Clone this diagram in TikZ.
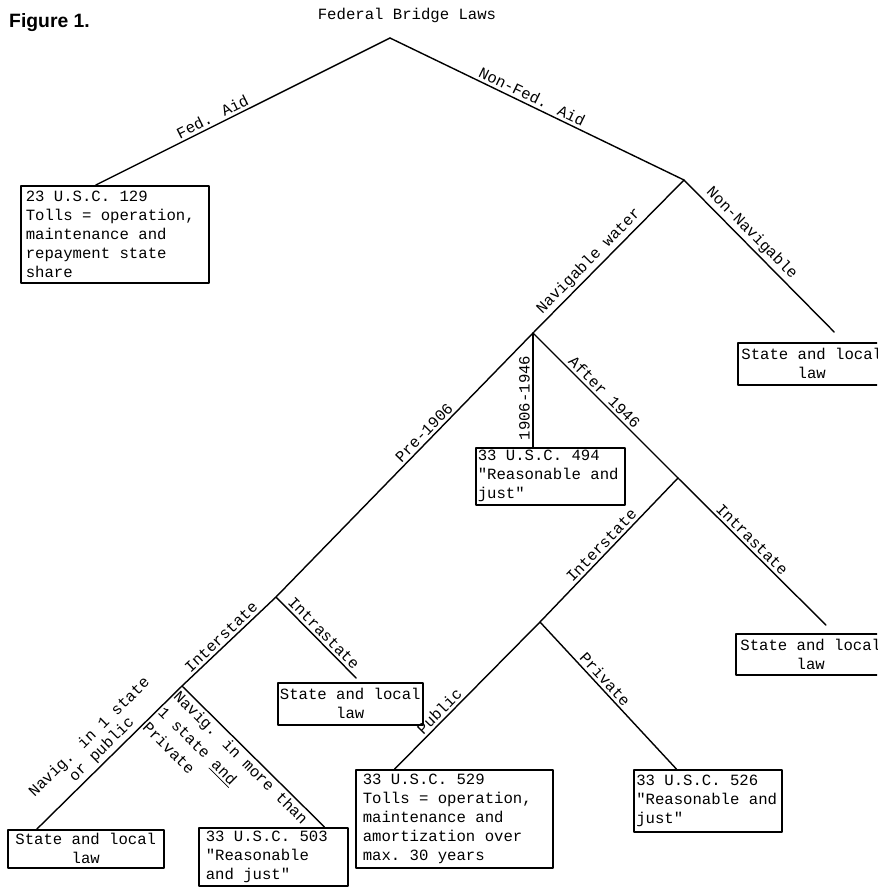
\documentclass[tikz,border=0pt]{standalone}
\usepackage{fontspec}
\newfontfamily\tw{Liberation Mono}
\newfontfamily\hv{Liberation Sans}
\newcommand\twfont{\tw\fontsize{8.9}{10.8}\selectfont}
\usetikzlibrary{calc}

\begin{document}
\begin{tikzpicture}[line cap=round,line join=round,x=0.02cm,y=-0.02cm,
    branch/.style={line width=0.8pt},
    lawbox/.style={draw,line width=0.9pt,anchor=north west,align=left,inner ysep=0pt,font=\twfont,
      execute at begin node={\frenchspacing\spaceskip=0pt\xspaceskip=0pt}},
    localbox/.style={draw,line width=0.9pt,anchor=north west,align=center,inner xsep=0.5pt,inner ysep=0pt,font=\twfont},
    lbl/.style={sloped,above,inner sep=1.5pt,font=\tw\fontsize{8.9}{10}\selectfont}]
  \useasboundingbox (0,0) rectangle (877,887);
  \clip (0,0) rectangle (877,887);
  \fill[white] (0,0) rectangle (877,887);

  \node[font=\hv\fontsize{11}{13}\selectfont\bfseries,anchor=base west] (fig) at (3,27) {Figure 1.};
  \node[font=\twfont,anchor=base] (title) at (407,19) {Federal Bridge Laws};

  % junctions
  \coordinate (root) at (390,38);
  \coordinate (nonfed) at (684,180);
  \coordinate (navig) at (533,333);
  \coordinate (after) at (678,478);
  \coordinate (inter) at (540,622);
  \coordinate (pre) at (276,597);
  \coordinate (preinter) at (182,686);

  % boxes
  \node[lawbox,text width=3.56cm,inner xsep=0.1cm,minimum height=1.94cm] (usc129) at (20,185)
    {23 U.S.C. 129\\Tolls = operation,\\maintenance and\\repayment state\\share};
  \node[localbox,minimum width=2.96cm,minimum height=0.84cm] (nonnavlaw) at (737,342) {State and local\\law};
  \node[lawbox,text width=2.9cm,inner xsep=0.04cm,minimum height=1.14cm] (usc494) at (475,447)
    {33 U.S.C. 494\\"Reasonable and\\just"};
  \node[localbox,minimum width=3.0cm,minimum height=0.82cm] (intralaw) at (735,633) {State and local\\law};
  \node[lawbox,text width=3.66cm,inner xsep=0.14cm,minimum height=1.96cm] (usc529) at (355,769)
    {33 U.S.C. 529\\Tolls = operation,\\maintenance and\\amortization over\\max. 30 years};
  \node[lawbox,text width=2.86cm,inner xsep=0.05cm,minimum height=1.24cm] (usc526) at (633,769)
    {33 U.S.C. 526\\"Reasonable and\\just"};
  \node[localbox,minimum width=2.9cm,minimum height=0.84cm] (prelaw) at (277,682) {State and local\\law};
  \node[localbox,minimum width=3.12cm,minimum height=0.76cm] (onestatelaw) at (7,829) {State and local\\law};
  \node[lawbox,text width=2.7cm,inner xsep=0.14cm,minimum height=1.16cm] (usc503) at (198,827)
    {33 U.S.C. 503\\"Reasonable\\and just"};

  % branches
  \draw[branch] (root) -- node[lbl,pos=0.59] {Fed. Aid} ($(usc129.north west)!0.4!(usc129.north east)$);
  \draw[branch] (root) -- node[lbl,pos=0.47] {Non-Fed. Aid} (nonfed);
  \draw[branch] (nonfed) -- node[lbl,pos=0.40] {Non-Navigable} ($(nonnavlaw.north west)!0.65!(nonnavlaw.north east)+(0,-10)$);
  \draw[branch] (nonfed) -- node[lbl,pos=0.58] {Navigable water} (navig);
  \draw[branch] (navig) -- node[lbl,pos=0.40] {Pre-1906} (pre);
  \draw[branch] (usc494.north -| navig) -- node[lbl,pos=0.43] {1906-1946} (navig);
  \draw[branch] (navig) -- node[lbl,pos=0.45] {After 1946} (after);
  \draw[branch] (after) -- node[lbl,pos=0.46] {Intrastate} ($(intralaw.north west)!0.6!(intralaw.north east)+(0,-8)$);
  \draw[branch] (after) -- node[lbl,pos=0.51] {Interstate} (inter);
  \draw[branch] (inter) -- node[lbl,pos=0.65] {Public} ($(usc529.north west)!0.2!(usc529.north east)$);
  \draw[branch] (inter) -- node[lbl,pos=0.43] {Private} ($(usc526.north west)!0.29!(usc526.north east)$);
  \draw[branch] (pre) -- node[lbl,pos=0.52] {Intrastate} ($(prelaw.north west)!0.54!(prelaw.north east)+(0,-4)$);
  \draw[branch] (pre) -- node[lbl,pos=0.52] {Interstate} (preinter);
  \draw[branch] (preinter) -- node[lbl,pos=0.50,align=center] {Navig. in 1 state\\or public}
    ($(onestatelaw.north west)!0.19!(onestatelaw.north east)$);
  \draw[branch] (preinter) -- node[lbl,below,pos=0.46,align=left,font=\tw\fontsize{8.9}{12.5}\selectfont]
    {Navig. in more than\\1 state \underline{and}\\Private}
    ($(usc503.north west)!0.84!(usc503.north east)$);
\end{tikzpicture}
\end{document}
